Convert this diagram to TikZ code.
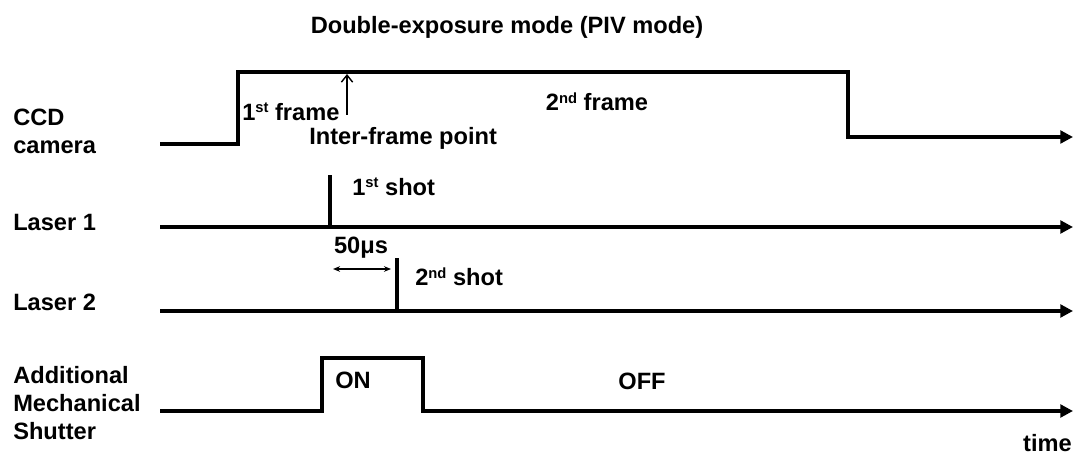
\documentclass[tikz,border=0pt]{standalone}
\usepackage{fontspec}
\setmainfont{Liberation Sans}
\usetikzlibrary{arrows.meta,positioning}

\newcommand{\ordsup}[1]{\raisebox{0.6ex}{\fontsize{10.5}{12}\selectfont #1}}

\begin{document}
\begin{tikzpicture}[
  x=0.025cm, y=-0.025cm,
  >={Triangle[length=9pt,width=9pt]},
  every node/.style={font=\fontsize{16.8}{19.8}\selectfont\bfseries, inner sep=0pt},
  sig/.style={line width=3.3pt, line join=miter},
  chan/.style={anchor=west, align=left},
  marker/.style={line width=1pt},
]
\useasboundingbox (0,0) rectangle (1075,457);

% Title
\node (title) at (507,27) {Double-exposure mode (PIV mode)};

% Channels
\node[chan] (ccd)     at (13,131) {CCD\\camera};
\node[chan] (laser1)  at (13,222) {Laser 1};
\node[chan] (laser2)  at (13,302) {Laser 2};
\node[chan] (shutter) at (13,403) {Additional\\Mechanical\\Shutter};

% Waveforms
\draw[sig,->] (160,144) -- (238,144) -- (238,72) -- (848,72) -- (848,137) -- (1073,137);
\draw[sig,->] (160,227) -- (1073,227);
\draw[sig] (330,227) -- (330,175);
\draw[sig,->] (160,311) -- (1073,311);
\draw[sig] (397,311) -- (397,258);
\draw[sig,->] (160,411) -- (322,411) -- (322,358) -- (423,358) -- (423,411) -- (1073,411);

% CCD labels
\node[anchor=west] (frame1) at (242,112) {1\ordsup{st} frame};
\node (frame2) at (597,102) {2\ordsup{nd} frame};
\node[anchor=west] (interframe) at (309,138) {Inter-frame point};
\coordinate (ifbot) at (347,115);
\coordinate (iftop) at (347,74);
\draw[marker,-{Straight Barb[length=5pt,width=8pt]}] (ifbot) -- (iftop);

% Laser labels
\node[anchor=west] (shot1) at (352,187) {1\ordsup{st} shot};
\node[anchor=west] (shot2) at (415,277) {2\ordsup{nd} shot};
\node (delay) at (361,248) {50μs};
\coordinate (dl) at (333,269);
\coordinate (dr) at (391,269);
\draw[marker,{Stealth[length=5pt,width=4pt]}-{Stealth[length=5pt,width=4pt]}] (dl) -- (dr);

% Shutter labels
\node[anchor=west] (on)  at (335,380) {ON};
\node (off) at (642,381) {OFF};

% Axis
\node[anchor=east] (time) at (1072,443) {time};

\end{tikzpicture}
\end{document}
